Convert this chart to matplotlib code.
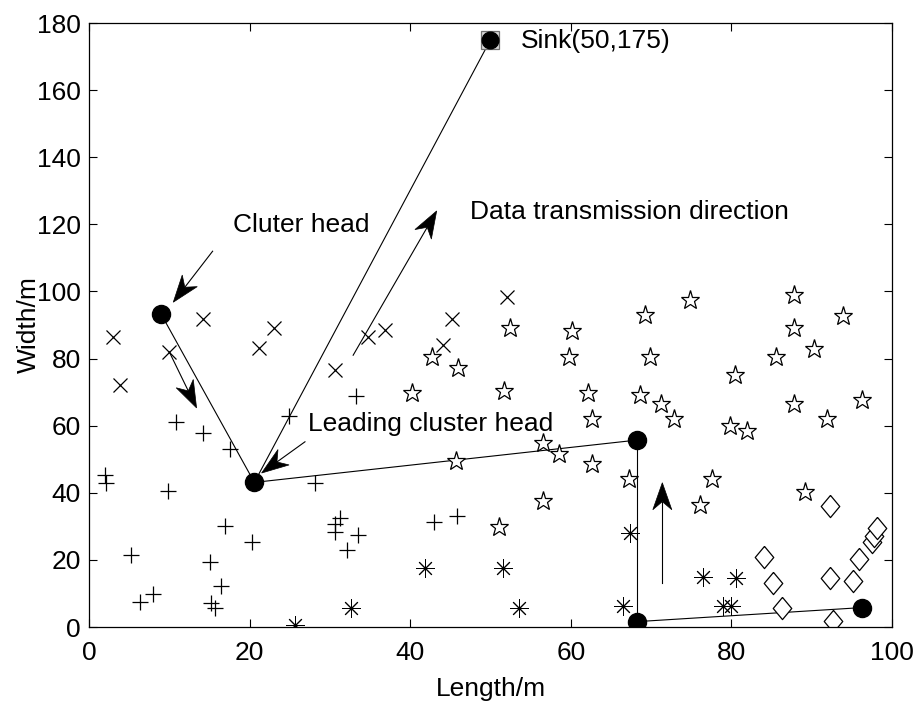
import numpy as np
import matplotlib
matplotlib.use('Agg')
import matplotlib.pyplot as plt
from matplotlib.patches import Polygon

plt.rcParams['font.family'] = ['Liberation Sans', 'DejaVu Sans']

# node positions, grouped by marker (cluster)
plus_x = [33.3, 24.9, 10.8, 14.2, 17.6, 2.0, 2.1, 9.9, 28.2, 17.0, 20.3, 31.3, 30.7, 30.7,
          33.5, 32.1, 5.2, 15.1, 16.5, 8.0, 6.4, 15.2, 15.7, 43.0, 45.8]
plus_y = [68.8, 63.0, 61.0, 57.7, 53.0, 45.3, 42.8, 40.5, 42.8, 30.1, 25.4, 32.6, 30.7, 28.4,
          27.4, 22.9, 21.5, 19.5, 12.2, 9.7, 7.5, 7.1, 5.6, 31.4, 33.2]

cross_x = [14.2, 3.0, 10.0, 3.9, 23.0, 21.2, 30.7, 34.8, 36.9, 52.0, 45.2, 44.1]
cross_y = [91.8, 86.5, 82.0, 72.1, 89.2, 83.2, 76.6, 86.5, 88.5, 98.4, 91.8, 84.0]

aster_x = [25.7, 32.6, 41.9, 51.5, 53.5, 67.4, 66.5, 76.5, 80.6, 79.0, 80.0]
aster_y = [0.6, 5.8, 17.5, 17.5, 5.6, 27.9, 6.4, 15.0, 14.5, 6.4, 6.4]

star_x = [42.7, 45.9, 52.4, 60.1, 59.8, 40.2, 51.7, 62.1, 62.6, 69.2, 69.9, 68.6, 71.2,
          56.5, 58.5, 45.7, 62.6, 67.3, 56.6, 51.1, 74.9, 72.8, 80.4, 79.8, 82.0, 87.8,
          87.8, 85.6, 90.3, 93.9, 87.8, 91.9, 96.3, 77.6, 76.1, 89.2]
star_y = [80.4, 77.1, 89.0, 88.3, 80.4, 69.8, 70.4, 69.8, 61.9, 93.0, 80.4, 69.1, 66.4,
          54.9, 51.5, 49.6, 48.6, 44.0, 37.6, 29.7, 97.6, 61.9, 75.1, 59.9, 58.5, 98.9,
          89.0, 80.4, 83.0, 92.7, 66.4, 61.9, 67.8, 44.0, 36.4, 40.1]

diam_x = [92.3, 84.1, 85.2, 86.3, 92.3, 95.1, 95.9, 97.5, 97.8, 98.1, 92.6]
diam_y = [36.1, 20.9, 13.0, 5.8, 14.5, 13.7, 20.3, 25.4, 27.2, 29.4, 1.8]

# cluster heads and the sink
head_x = [9.0, 20.6, 68.2, 68.2, 96.3]
head_y = [93.2, 43.1, 55.7, 1.6, 5.8]
sink = (50, 175)

# links between heads (index pairs, -1 = sink)
links = [(0, 1), (1, -1), (1, 2), (2, 3), (3, 4)]

# annotation arrows: (tail, tip)
arrows = [((15.4, 112.0), (10.5, 96.8)),
          ((10.0, 82.0), (13.4, 65.3)),
          ((26.9, 55.2), (21.5, 45.9)),
          ((32.9, 81.0), (43.3, 124.0)),
          ((71.4, 13.0), (71.4, 43.0))]

fig = plt.figure(figsize=(9.19, 7.02), dpi=100)
ax = fig.add_axes([0.0968, 0.1068, 0.8738, 0.8604])
ax.set_xlim(0, 100)
ax.set_ylim(0, 180)

for a, b in links:
    xa, ya = head_x[a], head_y[a]
    if b == -1:
        xb, yb = sink
    else:
        xb, yb = head_x[b], head_y[b]
    ax.plot([xa, xb], [ya, yb], color='black', lw=0.8, zorder=2)

ax.plot(plus_x, plus_y, ls='none', marker='+', ms=12, mew=0.9, color='black')
ax.plot(cross_x, cross_y, ls='none', marker='x', ms=10, mew=0.9, color='black')
ax.plot(aster_x, aster_y, ls='none', marker=(8, 2, 0), ms=13, mew=0.7, color='black')
ax.plot(star_x, star_y, ls='none', marker='*', ms=14, mew=0.9, mfc='white', mec='black')
diamond = [(0, 1.2), (1, 0), (0, -1.2), (-1, 0), (0, 1.2)]
ax.plot(diam_x, diam_y, ls='none', marker=diamond, ms=16, mew=0.9, mfc='white', mec='black')

ax.plot(head_x, head_y, ls='none', marker='o', ms=13, color='black', zorder=4)
ax.plot(*sink, marker='s', ms=13, mfc='#d9d9d9', mec='#707070', mew=0.9, zorder=4)
ax.plot(*sink, marker='o', ms=12, color='black', zorder=5)


# matlab style arrows with a notched head, built in pixel space
def stealth_arrow(tail, tip, length=27, half_w=9.5, notch=0.7):
    to_px = ax.transData
    p0 = to_px.transform(tail)
    p1 = to_px.transform(tip)
    d = (p1 - p0) / np.hypot(*(p1 - p0))
    n = np.array([-d[1], d[0]])
    back = p1 - d * length
    head = np.array([p1, back + n * half_w, p1 - d * length * notch, back - n * half_w])
    neck = to_px.inverted().transform(p1 - d * length * notch)
    ax.plot([tail[0], neck[0]], [tail[1], neck[1]], color='black', lw=0.8, zorder=3)
    ax.add_patch(Polygon(to_px.inverted().transform(head), closed=True,
                         fc='black', ec='black', lw=0.5, zorder=3))


for tail, tip in arrows:
    stealth_arrow(tail, tip)

fs = 19
ax.text(53.8, 174.6, 'Sink(50,175)', fontsize=fs, va='center', ha='left')
ax.text(17.9, 119.8, 'Cluter head', fontsize=fs, va='center', ha='left')
ax.text(47.4, 123.7, 'Data transmission direction', fontsize=fs, va='center', ha='left')
ax.text(27.3, 60.4, 'Leading cluster head', fontsize=fs, va='center', ha='left')

ax.set_xticks(np.arange(0, 101, 20))
ax.set_yticks(np.arange(0, 181, 20))
ax.tick_params(direction='in', length=5.5, width=0.8, top=True, right=True,
               labelsize=fs, pad=6)
ax.tick_params(axis='x', pad=10)
for s in ax.spines.values():
    s.set_linewidth(0.9)
ax.set_xlabel('Length/m', fontsize=fs, labelpad=9)
ax.set_ylabel('Width/m', fontsize=fs, labelpad=-3)

fig.savefig('out.png', dpi=100)
